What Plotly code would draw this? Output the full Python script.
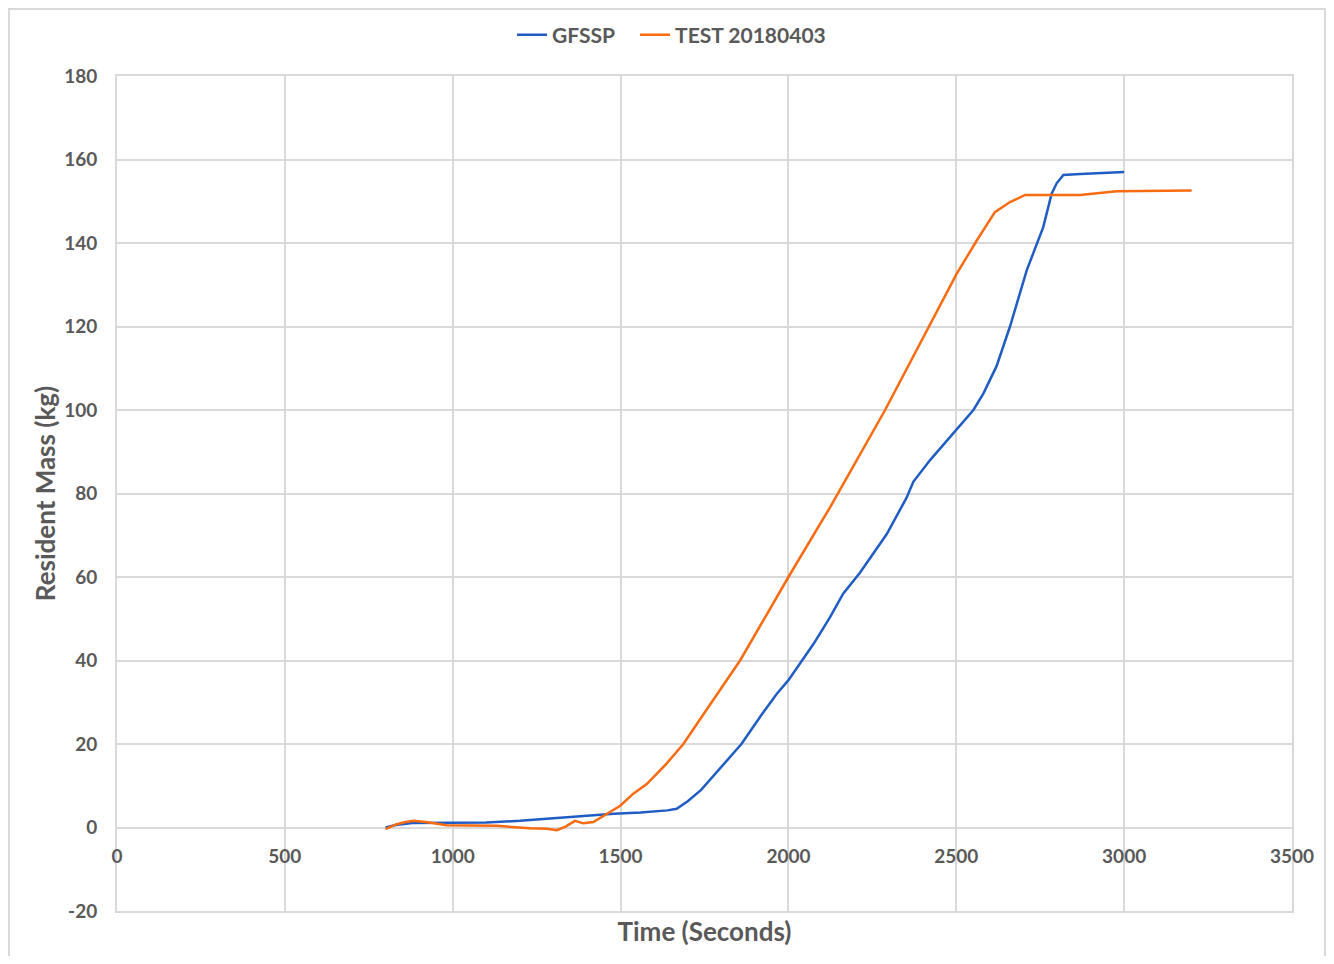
import plotly.graph_objects as go

# GFSSP model
gfssp_time = [800, 830, 880, 1000, 1100, 1200, 1280, 1400, 1480, 1560, 1640, 1667, 1700, 1740,
              1800, 1860, 1920, 1965, 2000, 2075, 2124, 2163, 2213, 2293, 2352, 2372, 2422,
              2460, 2501, 2551, 2581, 2620, 2660, 2685, 2710, 2759, 2784, 2799, 2819, 2870, 3000]
gfssp_mass = [0, 0.6, 1.1, 1.1, 1.2, 1.6, 2.1, 2.7, 3.3, 3.6, 4.1, 4.5, 6.3, 9.0,
              14.5, 20, 27, 32, 35.3, 44, 50.4, 56, 61, 70.3, 79, 82.8, 88,
              91.5, 95.2, 100, 104, 110.5, 120, 126.5, 133.5, 143.8, 151.8, 154.3, 156.3, 156.5, 157]

# Test data 20180403
test_time = [800, 815, 833, 860, 883, 920, 982, 1050, 1131, 1230, 1280, 1310, 1335, 1364, 1389,
             1419, 1459, 1499, 1538, 1578, 1637, 1687, 1750, 1856, 2000, 2124, 2288, 2442, 2501,
             2561, 2615, 2660, 2705, 2869, 2978, 3201]
test_mass = [-0.4, 0.2, 0.8, 1.3, 1.6, 1.3, 0.55, 0.5, 0.4, -0.2, -0.3, -0.65, 0.15, 1.6, 1.0,
             1.3, 3.2, 5.2, 8.1, 10.4, 15.3, 20, 27.5, 40, 60, 76.7, 100, 123.8, 132.6,
             140.6, 147.4, 149.8, 151.5, 151.5, 152.4, 152.6]

x_ticks = [0, 500, 1000, 1500, 2000, 2500, 3000, 3500]
y_ticks = [-20, 0, 20, 40, 60, 80, 100, 120, 140, 160, 180]

FONT = "Lato"
TXT = "#595959"
GRID = "#D9D9D9"

fig = go.Figure()
fig.add_trace(go.Scatter(x=gfssp_time, y=gfssp_mass, mode="lines", name="GFSSP",
                         line=dict(color="#1F5CC4", width=2.5), xaxis="x", yaxis="y",
                         legend="legend"))
fig.add_trace(go.Scatter(x=test_time, y=test_mass, mode="lines", name="TEST 20180403",
                         line=dict(color="#F96B10", width=2.5), xaxis="x2", yaxis="y",
                         legend="legend2"))

legend_font = dict(family=FONT, size=21, color=TXT, weight="bold")

fig.update_layout(
    width=1318, height=948,
    margin=dict(l=109, r=34, t=68, b=45, autoexpand=False),
    paper_bgcolor="white", plot_bgcolor="white",
    font=dict(family=FONT, color=TXT),
    showlegend=True,
    legend=dict(orientation="h", x=0.3362, xanchor="left",
                yref="container", y=0.9715, yanchor="middle",
                font=legend_font, bgcolor="rgba(0,0,0,0)"),
    legend2=dict(orientation="h", x=0.4409, xanchor="left",
                 yref="container", y=0.9715, yanchor="middle",
                 font=legend_font, bgcolor="rgba(0,0,0,0)"),
    # frame axis (bottom), carries grid, box and title
    xaxis=dict(
        range=[0, 3500], tickvals=x_ticks, showticklabels=False, automargin=False,
        showgrid=True, gridcolor=GRID, gridwidth=2,
        zeroline=False, showline=True, linecolor=GRID, linewidth=2, mirror=True,
        ticks="",
        title=dict(text="Time (Seconds)", standoff=11,
                   font=dict(family=FONT, size=26, color=TXT, weight="bold")),
    ),
    # label axis crossing at y = 0
    xaxis2=dict(
        range=[0, 3500], matches="x", overlaying="x", anchor="free", position=0.1,
        automargin=False,
        tickvals=x_ticks, ticktext=[str(v) for v in x_ticks],
        showgrid=False, zeroline=False, showline=False, ticks="", ticklabelstandoff=15,
        tickfont=dict(family=FONT, size=19, color=TXT, weight="bold"),
    ),
    yaxis=dict(
        range=[-20, 180], tickvals=y_ticks, ticktext=[str(v) for v in y_ticks],
        automargin=False,
        showgrid=True, gridcolor=GRID, gridwidth=2,
        zeroline=True, zerolinecolor=GRID, zerolinewidth=2,
        showline=True, linecolor=GRID, linewidth=2, mirror=True,
        ticks="", ticklabelstandoff=14,
        tickfont=dict(family=FONT, size=19, color=TXT, weight="bold"),
        title=dict(text="Resident Mass (kg)", standoff=1,
                   font=dict(family=FONT, size=26, color=TXT, weight="bold")),
    ),
    shapes=[dict(type="rect", xref="paper", yref="paper",
                 x0=-0.0919, x1=1.0281, y0=-0.0563, y1=1.0802,
                 line=dict(color=GRID, width=2), layer="below")],
)

fig.write_html("out.html")
